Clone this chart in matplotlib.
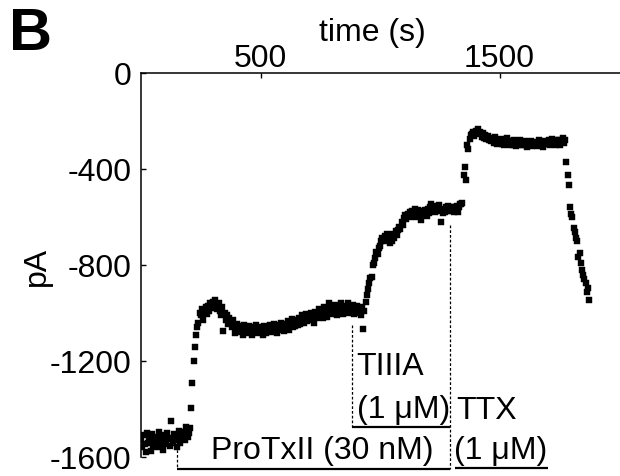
import numpy as np
import matplotlib
matplotlib.use("Agg")
import matplotlib.pyplot as plt

plt.rcParams['font.family'] = ['Liberation Sans', 'DejaVu Sans']
plt.rcParams['axes.unicode_minus'] = False

# ---------------- data ----------------
dt = 5  # sampling interval, s
current_pA = [
    -1530, -1560, -1510, -1545, -1580, -1500, -1540, -1525, -1575, -1505,
    -1550, -1530, -1515, -1560, -1535, -1495, -1545, -1520, -1570, -1510,
    -1530, -1545, -1500, -1525, -1555, -1450, -1520, -1540, -1505, -1530,
    -1560, -1515, -1490, -1540, -1510, -1525, -1495, -1530, -1475, -1515,
    -1500, -1480, -1395, -1290, -1200, -1140, -1090, -1060, -1040, -1000,
    -1010, -985, -1030, -1000, -975, -1005, -970, -990, -960, -980,
    -955, -970, -945, -965, -985, -960, -990, -1010, -975, -1075,
    -1000, -1030, -1010, -1045, -1020, -1040, -1060, -1030, -1050, -1085,
    -1045, -1070, -1055, -1080, -1060, -1090, -1050, -1075, -1065, -1085,
    -1055, -1080, -1070, -1090, -1060, -1075, -1050, -1085, -1070, -1060,
    -1080, -1065, -1090, -1055, -1075, -1085, -1060, -1070, -1050, -1080,
    -1065, -1045, -1075, -1060, -1085, -1050, -1070, -1040, -1065, -1055,
    -1075, -1045, -1060, -1035, -1070, -1050, -1025, -1060, -1040, -1055,
    -1030, -1050, -1020, -1045, -1035, -1010, -1040, -1025, -1005, -1035,
    -1015, -1030, -1000, -1025, -1010, -1040, -995, -1020, -1005, -985,
    -1010, -990, -1020, -975, -1005, -985, -1015, -960, -995, -1000,
    -980, -1005, -965, -990, -1010, -975, -1000, -960, -985, -1005,
    -970, -995, -980, -960, -1000, -975, -990, -965, -1005, -980,
    -995, -970, -1000, -985, -1010, -975, -1065, -990, -955, -925,
    -900, -876, -855, -848, -800, -790, -770, -745, -755, -730,
    -720, -700, -689, -690, -681, -700, -670, -690, -710, -680,
    -700, -670, -689, -660, -675, -655, -640, -650, -620, -635,
    -605, -593, -610, -586, -595, -580, -600, -575, -590, -565,
    -580, -600, -570, -590, -613, -575, -593, -585, -570, -595,
    -565, -585, -560, -544, -575, -555, -580, -560, -572, -550,
    -575, -620, -565, -585, -579, -560, -575, -555, -570, -558,
    -575, -560, -579, -565, -555, -580, -560, -544, -545, -540,
    -426, -390, -447, -302, -316, -274, -260, -253, -245, -262,
    -240, -250, -235, -255, -245, -265, -250, -270, -258, -275,
    -262, -280, -270, -285, -275, -290, -268, -282, -295, -278,
    -288, -275, -295, -280, -300, -285, -272, -292, -282, -298,
    -285, -300, -278, -292, -305, -288, -295, -280, -298, -290,
    -302, -285, -296, -310, -290, -300, -283, -305, -292, -298,
    -288, -305, -295, -280, -300, -290, -308, -285, -296, -288,
    -295, -280, -300, -288, -275, -293, -285, -298, -280, -290,
    -278, -300, -285, -270, -292, -280, -370, -426, -465, -558,
    -586, -600, -645, -662, -686, -700, -766, -752, -793, -821,
    -842, -860, -876, -914, -897, -945,
]
time_s = np.arange(len(current_pA)) * dt

x_ticks = [500, 1500]
y_ticks = [0, -400, -800, -1200, -1600]

# drug application brackets
bar_start = [149, 884, 1314]
bar_end = [1293, 1293, 1703]
bar_level = [-1649, -1474, -1645]
# dashed markers
dash_t = [149, 884, 1293]
dash_top = [-1550, -1051, -634]
dash_bottom = [-1649, -1474, -1649]

# ---------------- figure ----------------
W, H = 620, 477
fig = plt.figure(figsize=(W / 100, H / 100), dpi=100)
ax = fig.add_axes([141 / W, 1 - 458 / H, 1 - 141 / W, (458 - 74) / H])

ax.plot(time_s, current_pA, linestyle='none', marker='s', ms=4.8,
        color='black', mec='black', mew=0.3)

ax.set_xlim(0, 2004)
ax.set_ylim(-1600, 0)
ax.spines['right'].set_visible(False)
ax.spines['bottom'].set_visible(False)
for s in ('left', 'top'):
    ax.spines[s].set_linewidth(1.1)
ax.xaxis.tick_top()
ax.xaxis.set_label_position('top')
ax.set_xticks(x_ticks)
ax.set_yticks(y_ticks)
ax.set_yticklabels([str(v) for v in y_ticks])
fs = 23
ax.tick_params(axis='both', direction='in', length=3.3, width=1.0,
               labelsize=fs, colors='black')
ax.tick_params(axis='x', pad=0.0)
ax.tick_params(axis='y', pad=7)

ax.set_xlabel('time (s)', fontsize=fs)
ax.xaxis.set_label_coords(0.484, 1.085)
ax.set_ylabel('pA', fontsize=fs)
ax.yaxis.set_label_coords(-0.185, 0.5)

for s, e, lv in zip(bar_start, bar_end, bar_level):
    ax.plot([s, e], [lv, lv], color='black', lw=1.6, clip_on=False,
            solid_capstyle='butt')
for t, top, bot in zip(dash_t, dash_top, dash_bottom):
    ax.plot([t, t], [top, bot], color='black', lw=0.9, clip_on=False,
            linestyle=(0, (2.2, 1.6)))

ax.text(757, -1572, 'ProTxII (30 nM)', fontsize=fs, ha='center', va='center', clip_on=False)
ax.text(902, -1221, 'TIIIA', fontsize=fs, ha='left', va='center')
ax.text(902, -1400, '(1 μM)', fontsize=fs, ha='left', va='center')
ax.text(1320, -1404, 'TTX', fontsize=fs, ha='left', va='center')
ax.text(1310, -1570, '(1 μM)', fontsize=fs, ha='left', va='center', clip_on=False)

fig.text(9 / W, 1 - 7 / H, 'B', fontsize=43, fontweight='bold', ha='left', va='top')

fig.savefig('out.png', dpi=100)
